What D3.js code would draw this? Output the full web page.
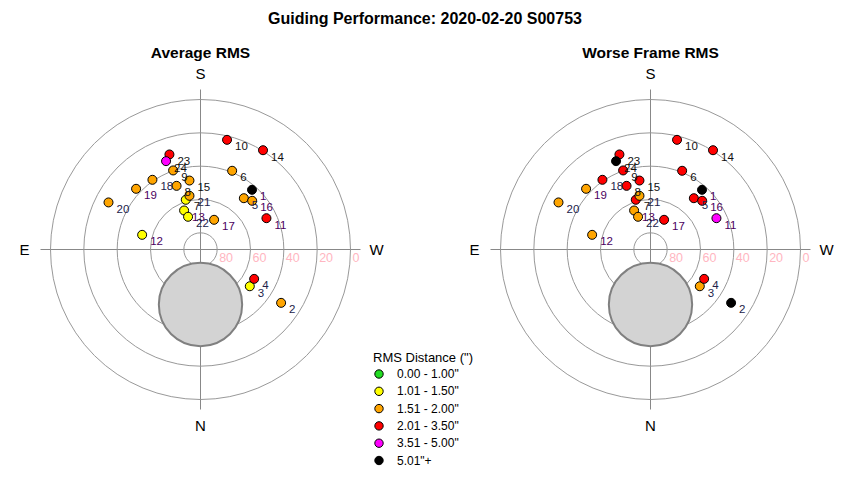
<!DOCTYPE html>
<html lang="en">
  <head>
    <meta charset="utf-8">
    <title>Guiding Performance</title>
    <script src="https://d3js.org/d3.v7.js"></script>
    <style>
      body { margin: 0; background: white; }
      text { font-family: "Liberation Sans", Arial, sans-serif; }
    </style>
  </head>
  <body>
    <script type="text/javascript">

      var w = 850;
      var h = 480;

      // frame numbers and their sky positions (degrees)
      var frames = [1, 2, 3, 4, 5, 6, 7, 8, 9, 10, 11, 12, 13, 14, 15, 16, 17, 18, 19, 20, 21, 22, 23, 24];
      var altitude = [42.7, 32.0, 53.1, 53.3, 49.7, 39.1, 58.9, 49.2, 39.8, 22.3, 46.2, 53.9,
                      64.6, 19.6, 48.1, 47.4, 70.4, 39.2, 36.9, 28.0, 57.1, 69.0, 30.0, 33.1];
      var azimuth = [220.8, 303.5, 306.7, 298.7, 220.2, 201.9, 163.5, 159.4, 160.9, 193.6, 244.6, 104.1,
                     157.2, 212.2, 170.9, 226.7, 204.6, 145.4, 133.3, 117.1, 168.4, 159.2, 161.9, 158.7];
      // label group (0 = early, 1 = middle, 2 = late in the night)
      var labelGroup = [2, 1, 1, 1, 1, 0, 0, 0, 0, 0, 2, 2, 2, 0, 0, 2, 2, 1, 2, 1, 1, 1, 0, 0];

      // RMS values in arcsec
      var avgRms = [5.3, 1.9, 1.45, 2.2, 1.8, 1.9, 1.4, 1.6, 1.7, 2.3, 2.4, 1.3,
                    1.4, 2.5, 1.7, 1.9, 1.8, 1.7, 1.8, 1.9, 1.9, 1.4, 2.6, 3.8];
      var worstRms = [6.5, 5.5, 1.9, 2.8, 2.6, 2.5, 2.3, 2.4, 2.6, 2.9, 3.9, 1.9,
                      1.8, 3.1, 2.2, 2.7, 2.2, 2.4, 2.0, 1.9, 1.95, 1.9, 3.2, 5.8];

      // avoidance zone (degrees)
      var zoneAlt = 57;
      var zoneAz = 0;
      var zoneRadius = 25;

      var ringAlts = [80, 60, 40, 20, 0];
      var compass = [{name: "S", az: 180}, {name: "E", az: 90}, {name: "N", az: 0}, {name: "W", az: 270}];

      var binEdges = [1.005, 1.505, 2.005, 3.505, 5.005];
      var binColors = ["#22dd22", "#ffff00", "#ffa500", "#ff0000", "#ff00ff", "#000000"];
      var binLabels = ["0.00 - 1.00\"", "1.01 - 1.50\"", "1.51 - 2.00\"", "2.01 - 3.50\"", "3.51 - 5.00\"", "5.01\"+"];

      var labelColors = ["#111111", "#22224a", "#4b0060"];

      var color = d3.scaleThreshold().domain(binEdges).range(binColors);
      var rScale = d3.scaleLinear().domain([90, 0]).range([0, 150]);

      function project(alt, az) {
        var r = rScale(alt);
        var a = az * Math.PI / 180;
        return [-r * Math.sin(a), r * Math.cos(a)];
      }

      var svg = d3.select("body")
        .append("svg")
          .attr("width", w)
          .attr("height", h);

      svg.append("text")
        .attr("x", 425)
        .attr("y", 24)
        .attr("text-anchor", "middle")
        .style("font-size", "16px")
        .style("font-weight", "bold")
        .text("Guiding Performance: 2020-02-20 S00753");

      function drawPolar(cx, cy, title, values) {
        var g = svg.append("g")
          .attr("transform", `translate(${cx}, ${cy})`);

        svg.append("text")
          .attr("x", cx)
          .attr("y", 58)
          .attr("text-anchor", "middle")
          .style("font-size", "15.5px")
          .style("font-weight", "bold")
          .text(title);

        var reach = rScale(0) + 10;
        g.append("line")
          .attr("x1", 0).attr("y1", -reach)
          .attr("x2", 0).attr("y2", reach)
          .attr("stroke", "#888");
        g.append("line")
          .attr("x1", -reach).attr("y1", 0)
          .attr("x2", reach).attr("y2", 0)
          .attr("stroke", "#888");

        g.selectAll("circle.ring")
          .data(ringAlts).enter().append("circle")
          .attr("class", "ring")
          .attr("r", d => rScale(d))
          .attr("fill", "none")
          .attr("stroke", "#999");

        g.selectAll("text.ringlabel")
          .data(ringAlts).enter().append("text")
          .attr("class", "ringlabel")
          .attr("x", d => rScale(d) + 2)
          .attr("y", 12)
          .attr("fill", "#ffb6c1")
          .style("font-size", "12.5px")
          .text(d => d);

        g.selectAll("text.compass")
          .data(compass).enter().append("text")
          .attr("class", "compass")
          .attr("x", d => project(-15.6, d.az)[0])
          .attr("y", d => project(-15.6, d.az)[1])
          .attr("text-anchor", "middle")
          .attr("dominant-baseline", "central")
          .style("font-size", "15px")
          .text(d => d.name);

        var zc = project(zoneAlt, zoneAz);
        g.append("circle")
          .attr("cx", zc[0])
          .attr("cy", zc[1])
          .attr("r", rScale(90 - zoneRadius))
          .attr("fill", "#d3d3d3")
          .attr("stroke", "#808080")
          .attr("stroke-width", 2);

        var pts = frames.map((f, i) => ({id: f, p: project(altitude[i], azimuth[i]), v: values[i], grp: labelGroup[i]}));

        g.selectAll("circle.pt")
          .data(pts).enter().append("circle")
          .attr("class", "pt")
          .attr("cx", d => d.p[0])
          .attr("cy", d => d.p[1])
          .attr("r", 4.5)
          .attr("fill", d => color(d.v))
          .attr("stroke", "black")
          .attr("stroke-width", 1);

        g.selectAll("text.pt")
          .data(pts).enter().append("text")
          .attr("class", "pt")
          .attr("x", d => d.p[0] + 8)
          .attr("y", d => d.p[1] + 10.5)
          .attr("fill", d => labelColors[d.grp])
          .style("font-size", "11.5px")
          .text(d => d.id);
      }

      drawPolar(200.5, 249.5, "Average RMS", avgRms);
      drawPolar(650.5, 249.5, "Worse Frame RMS", worstRms);

      // legend
      var legend = svg.append("g")
        .attr("transform", "translate(373, 362)");
      legend.append("text")
        .attr("x", 0)
        .attr("y", 0)
        .style("font-size", "13px")
        .text("RMS Distance (\")");
      var items = legend.selectAll("g.item")
        .data(binLabels).enter().append("g")
        .attr("class", "item")
        .attr("transform", (d, i) => `translate(0, ${12 + i * 17.3})`);
      items.append("circle")
        .attr("cx", 6)
        .attr("cy", 0)
        .attr("r", 4.2)
        .attr("fill", (d, i) => binColors[i])
        .attr("stroke", "black");
      items.append("text")
        .attr("x", 24)
        .attr("y", 0)
        .attr("dominant-baseline", "central")
        .style("font-size", "12px")
        .text(d => d);

    </script>
  </body>
</html>
